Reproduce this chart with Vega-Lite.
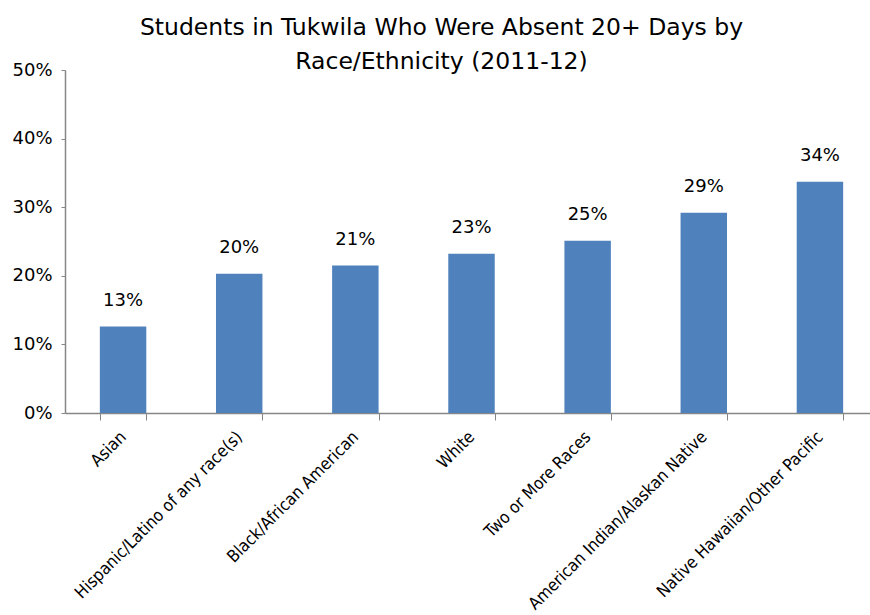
{
  "$schema": "https://vega.github.io/schema/vega-lite/v6.json",
  "autosize": {"type": "none"},
  "padding": {"left": 65, "top": 70, "right": 0, "bottom": 202},
  "width": 813,
  "height": 343,
  "background": "white",
  "title": {
    "text": ["Students in Tukwila Who Were Absent 20+ Days by", "Race/Ethnicity (2011-12)"],
    "font": "DejaVu Sans",
    "fontSize": 23.5,
    "fontWeight": "normal",
    "color": "#000000",
    "anchor": "middle",
    "dx": -30,
    "offset": -12,
    "lineHeight": 34
  },
  "data": {
    "values": [
      {"group": "Asian", "pct": 0.126, "label": "13%"},
      {"group": "Hispanic/Latino of any race(s)", "pct": 0.203, "label": "20%"},
      {"group": "Black/African American", "pct": 0.215, "label": "21%"},
      {"group": "White", "pct": 0.232, "label": "23%"},
      {"group": "Two or More Races", "pct": 0.251, "label": "25%"},
      {"group": "American Indian/Alaskan Native", "pct": 0.292, "label": "29%"},
      {"group": "Native Hawaiian/Other Pacific", "pct": 0.337, "label": "34%"}
    ]
  },
  "encoding": {
    "x": {
      "field": "group", "type": "nominal", "sort": null,
      "scale": {"paddingInner": 0.6, "paddingOuter": 0.3},
      "axis": {
        "title": null,
        "labelAngle": -45,
        "labelAlign": "right",
        "labelBaseline": "middle",
        "labelFont": "DejaVu Sans Condensed",
        "labelFontSize": 17,
        "labelColor": "#000000",
        "labelPadding": 14,
        "tickBand": "extent",
        "tickSize": 7,
        "tickColor": "#868686",
        "domainColor": "#868686",
        "domainWidth": 1.5,
        "labelLimit": 400
      }
    },
    "y": {
      "field": "pct", "type": "quantitative",
      "scale": {"domain": [0, 0.5], "nice": false},
      "axis": {
        "title": null,
        "format": ".0%",
        "values": [0, 0.1, 0.2, 0.3, 0.4, 0.5],
        "grid": false,
        "labelFont": "DejaVu Sans",
        "labelFontSize": 18,
        "labelColor": "#000000",
        "labelPadding": 9,
        "tickSize": 4,
        "tickColor": "#868686",
        "domainColor": "#868686",
        "domainWidth": 1.5
      }
    }
  },
  "layer": [
    {"mark": {"type": "bar", "color": "#4F81BD"}},
    {
      "mark": {"type": "text", "dy": -26, "font": "DejaVu Sans", "fontSize": 18, "color": "#000000"},
      "encoding": {"text": {"field": "label"}}
    }
  ],
  "config": {"view": {"stroke": null}}
}
